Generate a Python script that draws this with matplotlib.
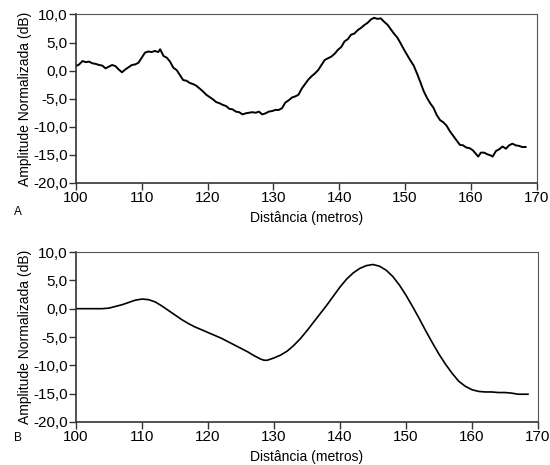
import matplotlib.pyplot as plt
import matplotlib.ticker as plticker

# painel A: medida (ruidosa)
dist_a = [100.0, 100.5, 101.0, 101.5, 102.0, 102.5, 103.0, 103.5, 104.0, 104.5,
          105.0, 105.5, 106.0, 106.5, 107.0, 107.5, 108.0, 108.5, 109.0, 109.5,
          110.0, 110.5, 111.0, 111.5, 112.0, 112.5, 112.8, 113.3, 113.8, 114.3,
          114.8, 115.3, 115.8, 116.3, 116.8, 117.3, 117.8, 118.3, 118.8, 119.3,
          119.8, 120.3, 120.8, 121.3, 121.8, 122.3, 122.8, 123.3, 123.8, 124.3,
          124.8, 125.3, 125.8, 126.3, 126.8, 127.3, 127.8, 128.3, 128.8, 129.3,
          129.8, 130.3, 130.8, 131.3, 131.8, 132.3, 132.8, 133.3, 133.8, 134.3,
          134.8, 135.3, 135.8, 136.3, 136.8, 137.3, 137.8, 138.3, 138.8, 139.3,
          139.8, 140.3, 140.8, 141.3, 141.8, 142.3, 142.8, 143.3, 143.8, 144.3,
          144.8, 145.3, 145.8, 146.3, 146.8, 147.3, 147.8, 148.3, 148.8, 149.3,
          149.8, 150.3, 150.8, 151.3, 151.8, 152.3, 152.8, 153.3, 153.8, 154.3,
          154.8, 155.3, 155.8, 156.3, 156.8, 157.3, 157.8, 158.3, 158.8, 159.3,
          159.8, 160.3, 160.8, 161.1, 161.5, 162.0, 162.5, 163.0, 163.3, 163.8,
          164.3, 164.8, 165.3, 165.8, 166.3, 166.8, 167.3, 167.8, 168.3]
amp_a = [0.8, 1.1, 1.7, 1.5, 1.6, 1.3, 1.2, 1.0, 0.9, 0.4,
         0.7, 1.0, 0.8, 0.2, -0.3, 0.2, 0.6, 1.0, 1.1, 1.4,
         2.3, 3.2, 3.4, 3.3, 3.5, 3.3, 3.8, 2.6, 2.3, 1.6,
         0.5, 0.1, -0.8, -1.7, -1.8, -2.2, -2.4, -2.7, -3.2, -3.7,
         -4.3, -4.7, -5.1, -5.6, -5.8, -6.1, -6.3, -6.8, -6.9, -7.3,
         -7.4, -7.8, -7.6, -7.5, -7.4, -7.5, -7.3, -7.8, -7.6, -7.3,
         -7.2, -7.0, -7.0, -6.7, -5.7, -5.3, -4.8, -4.6, -4.3, -3.2,
         -2.4, -1.6, -1.0, -0.5, 0.1, 1.0, 1.9, 2.2, 2.5, 3.0,
         3.7, 4.2, 5.2, 5.6, 6.4, 6.6, 7.2, 7.6, 8.1, 8.5,
         9.1, 9.4, 9.2, 9.3, 8.7, 8.2, 7.4, 6.6, 5.9, 4.9,
         3.8, 2.8, 1.8, 0.9, -0.5, -2.0, -3.6, -4.8, -5.8, -6.6,
         -7.9, -8.8, -9.2, -9.8, -10.8, -11.6, -12.4, -13.2, -13.3, -13.7,
         -13.8, -14.2, -14.9, -15.3, -14.6, -14.6, -14.9, -15.1, -15.3, -14.3,
         -14.0, -13.5, -13.9, -13.3, -13.0, -13.3, -13.4, -13.6, -13.6]

# painel B: modelo (suave)
dist_b = [100, 101, 102, 103, 104, 105, 106, 107, 108, 109,
          110, 111, 112, 113, 114, 115, 116, 117, 118, 119,
          120, 121, 122, 123, 124, 125, 126, 127, 128, 128.5,
          129, 130, 131, 132, 133, 134, 135, 136, 137, 138,
          139, 140, 141, 142, 143, 144, 145, 146, 147, 148,
          149, 150, 151, 152, 153, 154, 155, 156, 157, 158,
          159, 160, 161, 162, 163, 164, 165, 166, 167, 168, 168.5]
amp_b = [0.0, 0.0, 0.0, 0.0, 0.0, 0.1, 0.4, 0.7, 1.1, 1.5,
         1.7, 1.6, 1.2, 0.5, -0.3, -1.1, -1.9, -2.6, -3.2, -3.7,
         -4.2, -4.7, -5.2, -5.8, -6.4, -7.0, -7.6, -8.3, -8.9, -9.1,
         -9.1, -8.7, -8.2, -7.5, -6.5, -5.3, -3.9, -2.4, -0.9, 0.6,
         2.2, 3.8, 5.2, 6.3, 7.1, 7.6, 7.8, 7.5, 6.8, 5.7,
         4.2, 2.4, 0.4, -1.7, -3.9, -6.0, -8.0, -9.8, -11.4, -12.8,
         -13.7, -14.3, -14.6, -14.7, -14.7, -14.8, -14.8, -14.9, -15.1, -15.1, -15.1]

x_ticks = [100, 110, 120, 130, 140, 150, 160, 170]
y_ticks = [-20, -15, -10, -5, 0, 5, 10]

plt.rcParams['font.family'] = ['Liberation Sans', 'DejaVu Sans']

fig = plt.figure(figsize=(5.5, 4.65), dpi=100)
ax_a = fig.add_axes([0.138, 0.6065, 0.838, 0.3625])
ax_b = fig.add_axes([0.138, 0.0925, 0.840, 0.3655])

virgula = plticker.FuncFormatter(lambda v, p: f"{v:.1f}".replace('.', ','))

for ax, xs, ys, lw, letra, ly in [(ax_a, dist_a, amp_a, 1.4, 'A', 0.538),
                                   (ax_b, dist_b, amp_b, 1.2, 'B', 0.052)]:
    ax.plot(xs, ys, color='black', lw=lw)
    ax.set_xlim(100, 170)
    ax.set_ylim(-20, 10)
    ax.set_xticks(x_ticks)
    ax.set_yticks(y_ticks)
    ax.yaxis.set_major_formatter(virgula)
    ax.tick_params(direction='out', length=5, width=1, color='#333333',
                   labelsize=11, pad=1)
    for s in ['top', 'right']:
        ax.spines[s].set_color('#555555')
    for s in ['left', 'bottom']:
        ax.spines[s].set_color('#333333')
        ax.spines[s].set_linewidth(1.2)
    ax.set_ylabel('Amplitude Normalizada (dB)', fontsize=10, labelpad=1)
    ax.set_xlabel('Distância (metros)', fontsize=10, labelpad=4)
    fig.text(0.025, ly, letra, fontsize=8.5)

plt.savefig('out.png')
